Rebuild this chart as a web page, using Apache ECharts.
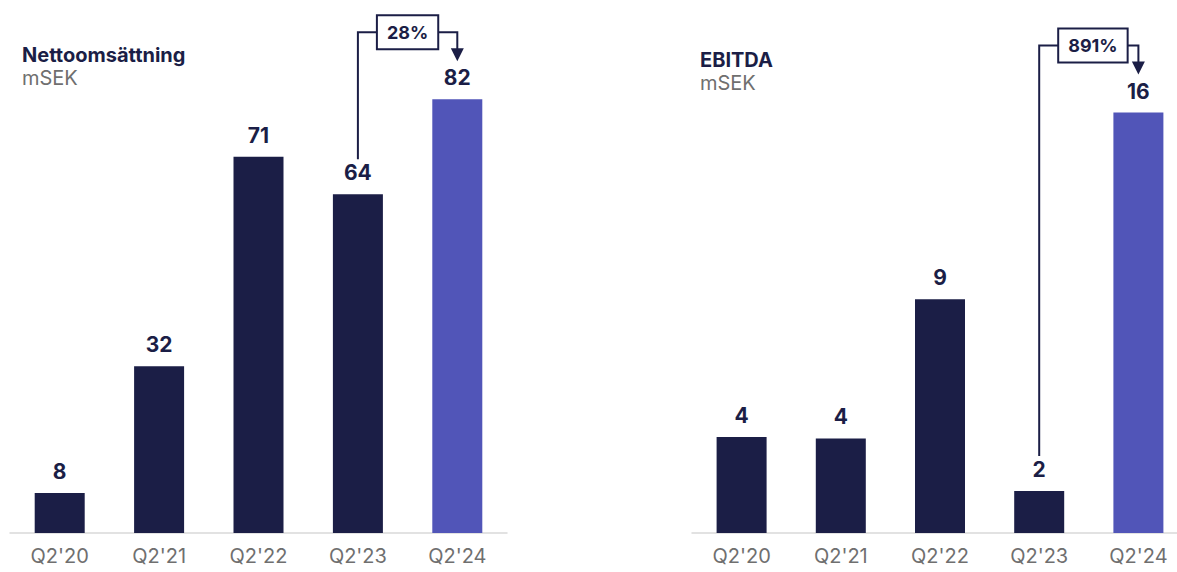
<!DOCTYPE html>
<html>
<head>
<meta charset="utf-8">
<script src="https://cdn.jsdelivr.net/npm/echarts@6/dist/echarts.min.js"></script>
<style>
  html, body { margin: 0; padding: 0; background: #fff; }
  #chart { width: 1177px; height: 572px; }
</style>
</head>
<body>
<div id="chart"></div>
<script>
(function() {
  var navy = '#1b1e46';
  var purple = '#5155b8';
  var grey = '#6f6f6f';
  var rule = '#d9d9d9';
  var font = 'Inter, "Noto Sans", sans-serif';

  // --- data ---
  var categories = ["Q2'20", "Q2'21", "Q2'22", "Q2'23", "Q2'24"];
  var revenue = [7.6, 31.6, 71.3, 64.2, 82.2];   // Nettoomsättning, mSEK
  var ebitda = [3.65, 3.6, 8.9, 1.6, 16.0];      // EBITDA, mSEK
  var growthLabels = ['28%', '891%'];

  function barData(values) {
    return values.map(function(v, i) {
      return { value: v, itemStyle: { color: i === values.length - 1 ? purple : navy } };
    });
  }

  function xAxis(grid) {
    return {
      type: 'category',
      gridIndex: grid,
      data: categories,
      axisTick: { show: false },
      axisLine: { lineStyle: { color: rule, width: 1.5 } },
      axisLabel: { color: grey, fontSize: 20, fontFamily: font, margin: 13 }
    };
  }

  function yAxis(grid, max) {
    return {
      type: 'value', gridIndex: grid, min: 0, max: max,
      show: false, splitLine: { show: false }
    };
  }

  function series(idx, values) {
    return {
      type: 'bar',
      xAxisIndex: idx,
      yAxisIndex: idx,
      barWidth: 50,
      data: barData(values),
      label: {
        show: true,
        position: 'top',
        distance: 11,
        color: navy,
        fontSize: 21,
        fontWeight: 'bold',
        fontFamily: font,
        formatter: function(p) { return Math.round(p.value); }
      }
    };
  }

  var chart = echarts.init(document.getElementById('chart'), null, { renderer: 'svg' });
  chart.setOption({
    animation: false,
    title: [
      {
        text: 'Nettoomsättning', subtext: 'mSEK', left: 22, top: 45, itemGap: 3, padding: 0,
        textStyle: { color: navy, fontSize: 20, fontWeight: 'bold', fontFamily: font },
        subtextStyle: { color: grey, fontSize: 20, fontFamily: font }
      },
      {
        text: 'EBITDA', subtext: 'mSEK', left: 700, top: 50, itemGap: 3, padding: 0,
        textStyle: { color: navy, fontSize: 20, fontWeight: 'bold', fontFamily: font },
        subtextStyle: { color: grey, fontSize: 20, fontFamily: font }
      }
    ],
    grid: [
      { left: 10, width: 497, top: 58, height: 475, outerBoundsMode: 'none' },
      { left: 692, width: 496, top: 60, height: 473, outerBoundsMode: 'none' }
    ],
    xAxis: [xAxis(0), xAxis(1)],
    yAxis: [yAxis(0, 90), yAxis(1, 18)],
    series: [series(0, revenue), series(1, ebitda)]
  });

  // growth brackets from Q2'23 to Q2'24, placed from the bar positions
  function bracket(idx, values, text) {
    var n = values.length;
    var from = chart.convertToPixel({ gridIndex: idx }, [categories[n - 2], values[n - 2]]);
    var to = chart.convertToPixel({ gridIndex: idx }, [categories[n - 1], values[n - 1]]);
    var tipY = to[1] - 38;
    var lineY = tipY - 29;
    var startY = from[1] - 35;
    var boxX = from[0] + 20;
    var ls = { stroke: navy, lineWidth: 2, fill: null };
    return [
      { type: 'polyline', shape: { points: [[from[0], startY], [from[0], lineY], [boxX, lineY]] }, style: ls },
      { type: 'polyline', shape: { points: [[boxX, lineY], [to[0], lineY], [to[0], tipY - 12]] }, style: ls },
      { type: 'polygon', shape: { points: [[to[0] - 6.5, tipY - 13], [to[0] + 6.5, tipY - 13], [to[0], tipY]] }, style: { fill: navy } },
      {
        type: 'text', x: boxX, y: lineY, z: 10,
        style: {
          text: text, fill: navy, font: 'bold 18px ' + font,
          align: 'left', verticalAlign: 'middle',
          backgroundColor: '#fff', borderColor: navy, borderWidth: 2,
          padding: [7, 9, 7, 9]
        }
      }
    ];
  }

  chart.setOption({
    graphic: bracket(0, revenue, growthLabels[0]).concat(bracket(1, ebitda, growthLabels[1]))
  });
})();
</script>
</body>
</html>
